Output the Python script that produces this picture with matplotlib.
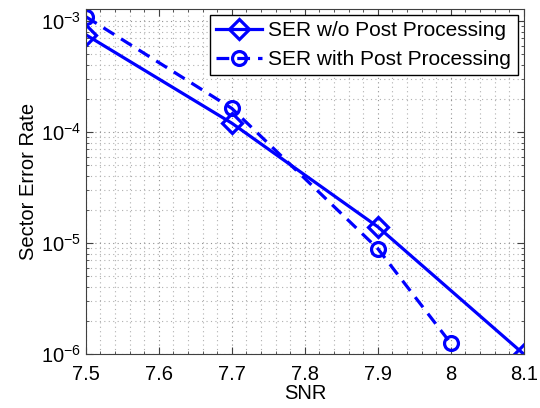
import matplotlib
matplotlib.use("Agg")
import matplotlib.pyplot as plt
from matplotlib.ticker import MultipleLocator, LogLocator, NullFormatter

plt.rcParams['font.family'] = ['Liberation Sans', 'DejaVu Sans']
plt.rcParams['mathtext.fontset'] = 'custom'
plt.rcParams['mathtext.rm'] = 'Liberation Sans'
plt.rcParams['mathtext.it'] = 'Liberation Sans'

# values
snr_wo = [7.5, 7.7, 7.9, 8.1]
ser_wo = [7.5e-4, 1.2e-4, 1.4e-5, 1.0e-6]
snr_with = [7.5, 7.7, 7.9, 8.0]
ser_with = [1.09e-3, 1.63e-4, 8.9e-6, 1.25e-6]
xticks = [7.5, 7.6, 7.7, 7.8, 7.9, 8.0, 8.1]
xticklabels = ['7.5', '7.6', '7.7', '7.8', '7.9', '8', '8.1']

fig = plt.figure(figsize=(5.4, 4.08), dpi=100)
ax = fig.add_axes([0.159, 0.132, 0.811, 0.846])

blue = '#0000ff'
ax.semilogy(snr_wo, ser_wo, '-', color=blue, lw=2.3, marker='D', ms=10,
            mfc='none', mew=2.3, label='SER w/o Post Processing')
ax.semilogy(snr_with, ser_with, '--', color=blue, lw=2.3, marker='o', ms=10,
            mfc='none', mew=2.3, dashes=(4, 2.5), label='SER with Post Processing')

ax.set_xlim(7.5, 8.1)
ax.set_ylim(1e-6, 1.28e-3)
ax.set_xticks(xticks)
ax.set_xticklabels(xticklabels)
ax.xaxis.set_minor_locator(MultipleLocator(0.02))
ax.yaxis.set_major_locator(LogLocator(base=10, numticks=10))
ax.yaxis.set_minor_locator(LogLocator(base=10, subs=range(2, 10), numticks=20))
ax.yaxis.set_minor_formatter(NullFormatter())

# matlab style dotted grid, sparse dots
ax.grid(True, which='major', ls=(0, (1, 3)), color='#909090', lw=0.8)
ax.grid(True, which='minor', ls=(0, (1, 3)), color='#b0b0b0', lw=0.8)
ax.tick_params(which='both', direction='in', top=True, right=True,
               labelsize=14.5, color='#404040')
ax.tick_params(which='major', length=5)
ax.tick_params(which='minor', length=2.5)
ax.tick_params(axis='x', pad=8)
for s in ax.spines.values():
    s.set_color('#404040')

ax.set_xlabel('SNR', fontsize=14.5, labelpad=0)
ax.set_ylabel('Sector Error Rate', fontsize=14.5, labelpad=2)

leg = ax.legend(loc='upper right', fontsize=15, fancybox=False,
                edgecolor='black', framealpha=1, borderaxespad=0.3,
                handlelength=2.2, handletextpad=0.3, borderpad=0.3,
                labelspacing=0.45)
leg.get_frame().set_linewidth(1.0)

fig.savefig('out.png', dpi=100)
